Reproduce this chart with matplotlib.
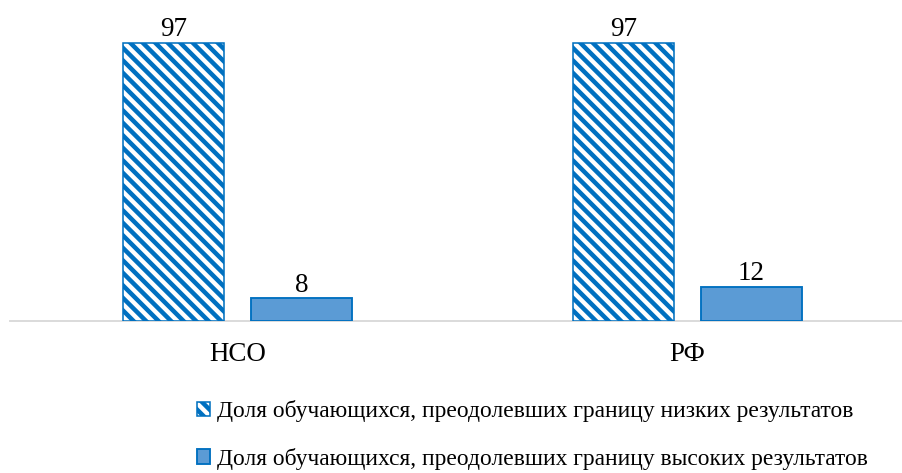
import numpy as np
import matplotlib
matplotlib.use("Agg")
import matplotlib.pyplot as plt

# data
regions = ["НСО", "РФ"]
low_share = [97, 97]
high_share = [8, 12]
series_names = [
    "Доля обучающихся, преодолевших границу низких результатов",
    "Доля обучающихся, преодолевших границу высоких результатов",
]

plt.rcParams["font.family"] = ["Liberation Serif", "DejaVu Serif"]
plt.rcParams["hatch.color"] = "#0070C0"
plt.rcParams["hatch.linewidth"] = 4.3

DPI = 75
fig = plt.figure(figsize=(902 / DPI, 473 / DPI), dpi=DPI)
ax = fig.add_axes([10 / 902, 152 / 473, 892 / 902, 286.6 / 473])

x = np.arange(len(regions))
w = 0.2244
fs = 25.9      # labels on bars and categories
fs_leg = 22.5  # legend

b1 = ax.bar(x - 0.142, low_share, w, color="white", edgecolor="#0070C0",
            hatch="\\\\", linewidth=1.5, label=series_names[0])
b2 = ax.bar(x + 0.142, high_share, w, color="#5B9BD5", edgecolor="#0070C0",
            linewidth=1.8, label=series_names[1])

for bars in (b1, b2):
    for r in bars:
        ax.annotate(str(int(r.get_height())),
                    (r.get_x() + r.get_width() / 2, r.get_height()),
                    xytext=(0, 0.5), textcoords="offset points",
                    ha="center", va="bottom", fontsize=fs, annotation_clip=False)

ax.set_xlim(-0.5056, 1.4767)
ax.set_ylim(0, 100)
ax.set_xticks(x)
ax.set_xticklabels(regions, fontsize=fs)
ax.tick_params(axis="x", length=0, pad=20.5)
ax.set_yticks([])
for s in ["top", "right", "left"]:
    ax.spines[s].set_visible(False)
ax.spines["bottom"].set_color("#D9D9D9")
ax.spines["bottom"].set_linewidth(1.8)
ax.spines["bottom"].set_zorder(0)

fig.legend(handles=[b1, b2], loc="upper left",
           bbox_to_anchor=(197 / 902, 1 - 400 / 473),
           frameon=False, fontsize=fs_leg, handlelength=0.55, handleheight=0.55,
           handletextpad=0.3, labelspacing=1.1, borderpad=0, borderaxespad=0)

fig.savefig("out.png", dpi=DPI)
